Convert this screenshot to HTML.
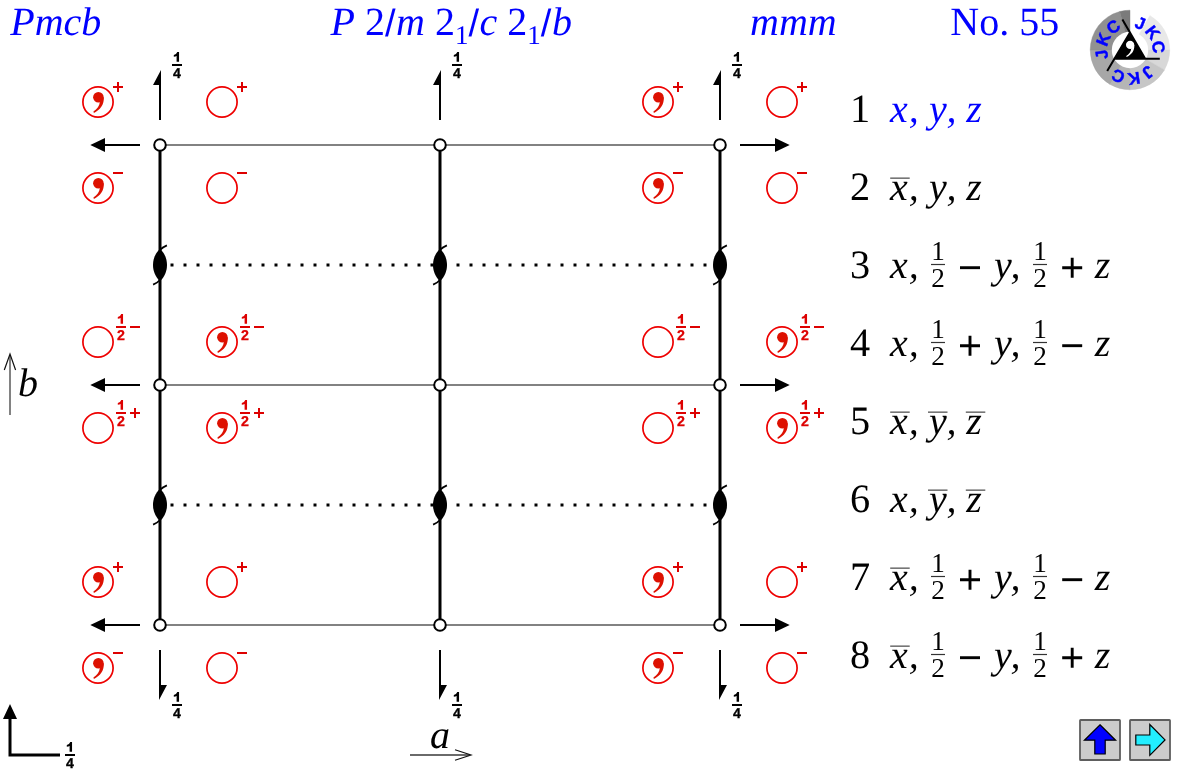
<!DOCTYPE html>
<html><head><meta charset="utf-8"><title>Pmcb No. 55</title>
<style>
html,body{margin:0;padding:0;background:#fff;}
body{width:1180px;height:770px;overflow:hidden;}
svg{display:block;position:absolute;left:0;top:0;opacity:0.9999;will-change:opacity;}
text{font-family:"Liberation Serif",serif;text-rendering:geometricPrecision;font-kerning:none;}
.i{font-style:italic;}
.sb{font-family:"Liberation Sans",sans-serif;font-weight:bold;}
.ss{font-family:"Liberation Sans",sans-serif;}
</style></head><body>
<svg width="1180" height="770" viewBox="0 0 1180 770">
<g fill="#0000ff" font-size="40">
<text x="10.3" y="35.3" class="i">Pmcb</text>
<text x="330.5" y="35.3"><tspan class="i">P</tspan> 2<tspan class="ss" font-size="38" dy="0.8">/</tspan><tspan class="i" dy="-0.8" dx="0.55">m</tspan> 2<tspan font-size="27" dy="8.7">1</tspan><tspan dy="-7.9" class="ss" font-size="38">/</tspan><tspan class="i" dy="-0.8" dx="0.55">c</tspan> 2<tspan font-size="27" dy="8.7">1</tspan><tspan dy="-7.9" class="ss" font-size="38">/</tspan><tspan class="i" dy="-0.8" dx="0.55">b</tspan></text>
<text x="750" y="35.3" class="i">mmm</text>
<text x="950.3" y="35.3">No. 55</text>
</g>
<line x1="160" y1="145" x2="720" y2="145" stroke="#585858" stroke-width="1.5"/>
<line x1="160" y1="385" x2="720" y2="385" stroke="#585858" stroke-width="1.5"/>
<line x1="160" y1="625" x2="720" y2="625" stroke="#585858" stroke-width="1.5"/>
<line x1="160" y1="145" x2="160" y2="625" stroke="#000" stroke-width="3"/>
<line x1="440" y1="145" x2="440" y2="625" stroke="#000" stroke-width="3"/>
<line x1="720" y1="145" x2="720" y2="625" stroke="#000" stroke-width="3"/>
<line x1="170.5" y1="265" x2="720" y2="265" stroke="#000" stroke-width="3" stroke-dasharray="3 10"/>
<line x1="170.5" y1="505" x2="720" y2="505" stroke="#000" stroke-width="3" stroke-dasharray="3 10"/>
<g transform="translate(160,265)"><path d="M0,-16.2 C9.35,-7.5 9.35,7.5 0,16.2 C-9.35,7.5 -9.35,-7.5 0,-16.2 Z" fill="#000"/><path d="M0,-15 Q2.5,-17.8 6.9,-19.7" fill="none" stroke="#000" stroke-width="1.8"/><path d="M0,15 Q-2.5,17.8 -6.9,19.7" fill="none" stroke="#000" stroke-width="1.8"/></g>
<g transform="translate(160,505)"><path d="M0,-16.2 C9.35,-7.5 9.35,7.5 0,16.2 C-9.35,7.5 -9.35,-7.5 0,-16.2 Z" fill="#000"/><path d="M0,-15 Q2.5,-17.8 6.9,-19.7" fill="none" stroke="#000" stroke-width="1.8"/><path d="M0,15 Q-2.5,17.8 -6.9,19.7" fill="none" stroke="#000" stroke-width="1.8"/></g>
<g transform="translate(440,265)"><path d="M0,-16.2 C9.35,-7.5 9.35,7.5 0,16.2 C-9.35,7.5 -9.35,-7.5 0,-16.2 Z" fill="#000"/><path d="M0,-15 Q2.5,-17.8 6.9,-19.7" fill="none" stroke="#000" stroke-width="1.8"/><path d="M0,15 Q-2.5,17.8 -6.9,19.7" fill="none" stroke="#000" stroke-width="1.8"/></g>
<g transform="translate(440,505)"><path d="M0,-16.2 C9.35,-7.5 9.35,7.5 0,16.2 C-9.35,7.5 -9.35,-7.5 0,-16.2 Z" fill="#000"/><path d="M0,-15 Q2.5,-17.8 6.9,-19.7" fill="none" stroke="#000" stroke-width="1.8"/><path d="M0,15 Q-2.5,17.8 -6.9,19.7" fill="none" stroke="#000" stroke-width="1.8"/></g>
<g transform="translate(720,265)"><path d="M0,-16.2 C9.35,-7.5 9.35,7.5 0,16.2 C-9.35,7.5 -9.35,-7.5 0,-16.2 Z" fill="#000"/><path d="M0,-15 Q2.5,-17.8 6.9,-19.7" fill="none" stroke="#000" stroke-width="1.8"/><path d="M0,15 Q-2.5,17.8 -6.9,19.7" fill="none" stroke="#000" stroke-width="1.8"/></g>
<g transform="translate(720,505)"><path d="M0,-16.2 C9.35,-7.5 9.35,7.5 0,16.2 C-9.35,7.5 -9.35,-7.5 0,-16.2 Z" fill="#000"/><path d="M0,-15 Q2.5,-17.8 6.9,-19.7" fill="none" stroke="#000" stroke-width="1.8"/><path d="M0,15 Q-2.5,17.8 -6.9,19.7" fill="none" stroke="#000" stroke-width="1.8"/></g>
<circle cx="160" cy="145" r="5.8" fill="#fff" stroke="#000" stroke-width="2"/>
<circle cx="160" cy="385" r="5.8" fill="#fff" stroke="#000" stroke-width="2"/>
<circle cx="160" cy="625" r="5.8" fill="#fff" stroke="#000" stroke-width="2"/>
<circle cx="440" cy="145" r="5.8" fill="#fff" stroke="#000" stroke-width="2"/>
<circle cx="440" cy="385" r="5.8" fill="#fff" stroke="#000" stroke-width="2"/>
<circle cx="440" cy="625" r="5.8" fill="#fff" stroke="#000" stroke-width="2"/>
<circle cx="720" cy="145" r="5.8" fill="#fff" stroke="#000" stroke-width="2"/>
<circle cx="720" cy="385" r="5.8" fill="#fff" stroke="#000" stroke-width="2"/>
<circle cx="720" cy="625" r="5.8" fill="#fff" stroke="#000" stroke-width="2"/>
<line x1="104" y1="145" x2="140" y2="145" stroke="#000" stroke-width="2"/>
<polygon points="90.3,145 105,138 105,152" fill="#000"/>
<line x1="740" y1="145" x2="776" y2="145" stroke="#000" stroke-width="2"/>
<polygon points="789.7,145 775,138 775,152" fill="#000"/>
<line x1="104" y1="385" x2="140" y2="385" stroke="#000" stroke-width="2"/>
<polygon points="90.3,385 105,378 105,392" fill="#000"/>
<line x1="740" y1="385" x2="776" y2="385" stroke="#000" stroke-width="2"/>
<polygon points="789.7,385 775,378 775,392" fill="#000"/>
<line x1="104" y1="625" x2="140" y2="625" stroke="#000" stroke-width="2"/>
<polygon points="90.3,625 105,618 105,632" fill="#000"/>
<line x1="740" y1="625" x2="776" y2="625" stroke="#000" stroke-width="2"/>
<polygon points="789.7,625 775,618 775,632" fill="#000"/>
<line x1="160" y1="120" x2="160" y2="84" stroke="#000" stroke-width="2"/>
<polygon points="161,70 161,85 153,85" fill="#000"/>
<g fill="#000"><path transform="translate(177,65)" d="M2.05,-3.2 V-12.95 H0.2 C-0.3,-11.3 -1.5,-10.3 -3.2,-10.05 V-8.2 C-2.1,-8.3 -1.1,-8.6 -0.4,-9.1 V-3.2 Z"/><text class="sb" font-size="14.2" text-anchor="middle" x="177" y="78" stroke="#000" stroke-width="0.3">4</text><rect x="172" y="64" width="10" height="2"/></g>
<line x1="160" y1="650" x2="160" y2="686" stroke="#000" stroke-width="2"/>
<polygon points="159,700 159,685 167,685" fill="#000"/>
<g fill="#000"><path transform="translate(177,705)" d="M2.05,-3.2 V-12.95 H0.2 C-0.3,-11.3 -1.5,-10.3 -3.2,-10.05 V-8.2 C-2.1,-8.3 -1.1,-8.6 -0.4,-9.1 V-3.2 Z"/><text class="sb" font-size="14.2" text-anchor="middle" x="177" y="718" stroke="#000" stroke-width="0.3">4</text><rect x="172" y="704" width="10" height="2"/></g>
<line x1="440" y1="120" x2="440" y2="84" stroke="#000" stroke-width="2"/>
<polygon points="441,70 441,85 433,85" fill="#000"/>
<g fill="#000"><path transform="translate(457,65)" d="M2.05,-3.2 V-12.95 H0.2 C-0.3,-11.3 -1.5,-10.3 -3.2,-10.05 V-8.2 C-2.1,-8.3 -1.1,-8.6 -0.4,-9.1 V-3.2 Z"/><text class="sb" font-size="14.2" text-anchor="middle" x="457" y="78" stroke="#000" stroke-width="0.3">4</text><rect x="452" y="64" width="10" height="2"/></g>
<line x1="440" y1="650" x2="440" y2="686" stroke="#000" stroke-width="2"/>
<polygon points="439,700 439,685 447,685" fill="#000"/>
<g fill="#000"><path transform="translate(457,705)" d="M2.05,-3.2 V-12.95 H0.2 C-0.3,-11.3 -1.5,-10.3 -3.2,-10.05 V-8.2 C-2.1,-8.3 -1.1,-8.6 -0.4,-9.1 V-3.2 Z"/><text class="sb" font-size="14.2" text-anchor="middle" x="457" y="718" stroke="#000" stroke-width="0.3">4</text><rect x="452" y="704" width="10" height="2"/></g>
<line x1="720" y1="120" x2="720" y2="84" stroke="#000" stroke-width="2"/>
<polygon points="721,70 721,85 713,85" fill="#000"/>
<g fill="#000"><path transform="translate(737,65)" d="M2.05,-3.2 V-12.95 H0.2 C-0.3,-11.3 -1.5,-10.3 -3.2,-10.05 V-8.2 C-2.1,-8.3 -1.1,-8.6 -0.4,-9.1 V-3.2 Z"/><text class="sb" font-size="14.2" text-anchor="middle" x="737" y="78" stroke="#000" stroke-width="0.3">4</text><rect x="732" y="64" width="10" height="2"/></g>
<line x1="720" y1="650" x2="720" y2="686" stroke="#000" stroke-width="2"/>
<polygon points="719,700 719,685 727,685" fill="#000"/>
<g fill="#000"><path transform="translate(737,705)" d="M2.05,-3.2 V-12.95 H0.2 C-0.3,-11.3 -1.5,-10.3 -3.2,-10.05 V-8.2 C-2.1,-8.3 -1.1,-8.6 -0.4,-9.1 V-3.2 Z"/><text class="sb" font-size="14.2" text-anchor="middle" x="737" y="718" stroke="#000" stroke-width="0.3">4</text><rect x="732" y="704" width="10" height="2"/></g>
<circle cx="98" cy="102" r="15.1" fill="none" stroke="#ee0000" stroke-width="1.7"/>
<g transform="translate(98,102)" fill="#dd1100"><circle cx="0.4" cy="-4.7" r="5.3"/><path d="M5.75,-5 C6.5,2.8 1.8,8 -4.1,10.9 L-4.6,9.6 C-0.8,6.7 1.6,3.9 1.8,0.2 Z"/></g>
<path d="M113,87H123M118,82V92" stroke="#dd0000" stroke-width="2" fill="none"/>
<circle cx="222" cy="102" r="15.1" fill="none" stroke="#ee0000" stroke-width="1.7"/>
<path d="M237,87H247M242,82V92" stroke="#dd0000" stroke-width="2" fill="none"/>
<circle cx="658" cy="102" r="15.1" fill="none" stroke="#ee0000" stroke-width="1.7"/>
<g transform="translate(658,102)" fill="#dd1100"><circle cx="0.4" cy="-4.7" r="5.3"/><path d="M5.75,-5 C6.5,2.8 1.8,8 -4.1,10.9 L-4.6,9.6 C-0.8,6.7 1.6,3.9 1.8,0.2 Z"/></g>
<path d="M673,87H683M678,82V92" stroke="#dd0000" stroke-width="2" fill="none"/>
<circle cx="782" cy="102" r="15.1" fill="none" stroke="#ee0000" stroke-width="1.7"/>
<path d="M797,87H807M802,82V92" stroke="#dd0000" stroke-width="2" fill="none"/>
<circle cx="98" cy="188" r="15.1" fill="none" stroke="#ee0000" stroke-width="1.7"/>
<g transform="translate(98,188)" fill="#dd1100"><circle cx="0.4" cy="-4.7" r="5.3"/><path d="M5.75,-5 C6.5,2.8 1.8,8 -4.1,10.9 L-4.6,9.6 C-0.8,6.7 1.6,3.9 1.8,0.2 Z"/></g>
<path d="M113,173H123" stroke="#dd0000" stroke-width="2" fill="none"/>
<circle cx="222" cy="188" r="15.1" fill="none" stroke="#ee0000" stroke-width="1.7"/>
<path d="M237,173H247" stroke="#dd0000" stroke-width="2" fill="none"/>
<circle cx="658" cy="188" r="15.1" fill="none" stroke="#ee0000" stroke-width="1.7"/>
<g transform="translate(658,188)" fill="#dd1100"><circle cx="0.4" cy="-4.7" r="5.3"/><path d="M5.75,-5 C6.5,2.8 1.8,8 -4.1,10.9 L-4.6,9.6 C-0.8,6.7 1.6,3.9 1.8,0.2 Z"/></g>
<path d="M673,173H683" stroke="#dd0000" stroke-width="2" fill="none"/>
<circle cx="782" cy="188" r="15.1" fill="none" stroke="#ee0000" stroke-width="1.7"/>
<path d="M797,173H807" stroke="#dd0000" stroke-width="2" fill="none"/>
<circle cx="98" cy="342" r="15.1" fill="none" stroke="#ee0000" stroke-width="1.7"/>
<g fill="#dd0000"><path transform="translate(121,327)" d="M2.05,-3.2 V-12.95 H0.2 C-0.3,-11.3 -1.5,-10.3 -3.2,-10.05 V-8.2 C-2.1,-8.3 -1.1,-8.6 -0.4,-9.1 V-3.2 Z"/><text class="sb" font-size="14.2" text-anchor="middle" x="121" y="340" stroke="#dd0000" stroke-width="0.3">2</text><rect x="116" y="326" width="10" height="2"/></g>
<path d="M130,327H140" stroke="#dd0000" stroke-width="2" fill="none"/>
<circle cx="222" cy="342" r="15.1" fill="none" stroke="#ee0000" stroke-width="1.7"/>
<g transform="translate(222,342)" fill="#dd1100"><circle cx="0.4" cy="-4.7" r="5.3"/><path d="M5.75,-5 C6.5,2.8 1.8,8 -4.1,10.9 L-4.6,9.6 C-0.8,6.7 1.6,3.9 1.8,0.2 Z"/></g>
<g fill="#dd0000"><path transform="translate(245,327)" d="M2.05,-3.2 V-12.95 H0.2 C-0.3,-11.3 -1.5,-10.3 -3.2,-10.05 V-8.2 C-2.1,-8.3 -1.1,-8.6 -0.4,-9.1 V-3.2 Z"/><text class="sb" font-size="14.2" text-anchor="middle" x="245" y="340" stroke="#dd0000" stroke-width="0.3">2</text><rect x="240" y="326" width="10" height="2"/></g>
<path d="M254,327H264" stroke="#dd0000" stroke-width="2" fill="none"/>
<circle cx="658" cy="342" r="15.1" fill="none" stroke="#ee0000" stroke-width="1.7"/>
<g fill="#dd0000"><path transform="translate(681,327)" d="M2.05,-3.2 V-12.95 H0.2 C-0.3,-11.3 -1.5,-10.3 -3.2,-10.05 V-8.2 C-2.1,-8.3 -1.1,-8.6 -0.4,-9.1 V-3.2 Z"/><text class="sb" font-size="14.2" text-anchor="middle" x="681" y="340" stroke="#dd0000" stroke-width="0.3">2</text><rect x="676" y="326" width="10" height="2"/></g>
<path d="M690,327H700" stroke="#dd0000" stroke-width="2" fill="none"/>
<circle cx="782" cy="342" r="15.1" fill="none" stroke="#ee0000" stroke-width="1.7"/>
<g transform="translate(782,342)" fill="#dd1100"><circle cx="0.4" cy="-4.7" r="5.3"/><path d="M5.75,-5 C6.5,2.8 1.8,8 -4.1,10.9 L-4.6,9.6 C-0.8,6.7 1.6,3.9 1.8,0.2 Z"/></g>
<g fill="#dd0000"><path transform="translate(805,327)" d="M2.05,-3.2 V-12.95 H0.2 C-0.3,-11.3 -1.5,-10.3 -3.2,-10.05 V-8.2 C-2.1,-8.3 -1.1,-8.6 -0.4,-9.1 V-3.2 Z"/><text class="sb" font-size="14.2" text-anchor="middle" x="805" y="340" stroke="#dd0000" stroke-width="0.3">2</text><rect x="800" y="326" width="10" height="2"/></g>
<path d="M814,327H824" stroke="#dd0000" stroke-width="2" fill="none"/>
<circle cx="98" cy="428" r="15.1" fill="none" stroke="#ee0000" stroke-width="1.7"/>
<g fill="#dd0000"><path transform="translate(121,413)" d="M2.05,-3.2 V-12.95 H0.2 C-0.3,-11.3 -1.5,-10.3 -3.2,-10.05 V-8.2 C-2.1,-8.3 -1.1,-8.6 -0.4,-9.1 V-3.2 Z"/><text class="sb" font-size="14.2" text-anchor="middle" x="121" y="426" stroke="#dd0000" stroke-width="0.3">2</text><rect x="116" y="412" width="10" height="2"/></g>
<path d="M130,413H140M135,408V418" stroke="#dd0000" stroke-width="2" fill="none"/>
<circle cx="222" cy="428" r="15.1" fill="none" stroke="#ee0000" stroke-width="1.7"/>
<g transform="translate(222,428)" fill="#dd1100"><circle cx="0.4" cy="-4.7" r="5.3"/><path d="M5.75,-5 C6.5,2.8 1.8,8 -4.1,10.9 L-4.6,9.6 C-0.8,6.7 1.6,3.9 1.8,0.2 Z"/></g>
<g fill="#dd0000"><path transform="translate(245,413)" d="M2.05,-3.2 V-12.95 H0.2 C-0.3,-11.3 -1.5,-10.3 -3.2,-10.05 V-8.2 C-2.1,-8.3 -1.1,-8.6 -0.4,-9.1 V-3.2 Z"/><text class="sb" font-size="14.2" text-anchor="middle" x="245" y="426" stroke="#dd0000" stroke-width="0.3">2</text><rect x="240" y="412" width="10" height="2"/></g>
<path d="M254,413H264M259,408V418" stroke="#dd0000" stroke-width="2" fill="none"/>
<circle cx="658" cy="428" r="15.1" fill="none" stroke="#ee0000" stroke-width="1.7"/>
<g fill="#dd0000"><path transform="translate(681,413)" d="M2.05,-3.2 V-12.95 H0.2 C-0.3,-11.3 -1.5,-10.3 -3.2,-10.05 V-8.2 C-2.1,-8.3 -1.1,-8.6 -0.4,-9.1 V-3.2 Z"/><text class="sb" font-size="14.2" text-anchor="middle" x="681" y="426" stroke="#dd0000" stroke-width="0.3">2</text><rect x="676" y="412" width="10" height="2"/></g>
<path d="M690,413H700M695,408V418" stroke="#dd0000" stroke-width="2" fill="none"/>
<circle cx="782" cy="428" r="15.1" fill="none" stroke="#ee0000" stroke-width="1.7"/>
<g transform="translate(782,428)" fill="#dd1100"><circle cx="0.4" cy="-4.7" r="5.3"/><path d="M5.75,-5 C6.5,2.8 1.8,8 -4.1,10.9 L-4.6,9.6 C-0.8,6.7 1.6,3.9 1.8,0.2 Z"/></g>
<g fill="#dd0000"><path transform="translate(805,413)" d="M2.05,-3.2 V-12.95 H0.2 C-0.3,-11.3 -1.5,-10.3 -3.2,-10.05 V-8.2 C-2.1,-8.3 -1.1,-8.6 -0.4,-9.1 V-3.2 Z"/><text class="sb" font-size="14.2" text-anchor="middle" x="805" y="426" stroke="#dd0000" stroke-width="0.3">2</text><rect x="800" y="412" width="10" height="2"/></g>
<path d="M814,413H824M819,408V418" stroke="#dd0000" stroke-width="2" fill="none"/>
<circle cx="98" cy="582" r="15.1" fill="none" stroke="#ee0000" stroke-width="1.7"/>
<g transform="translate(98,582)" fill="#dd1100"><circle cx="0.4" cy="-4.7" r="5.3"/><path d="M5.75,-5 C6.5,2.8 1.8,8 -4.1,10.9 L-4.6,9.6 C-0.8,6.7 1.6,3.9 1.8,0.2 Z"/></g>
<path d="M113,567H123M118,562V572" stroke="#dd0000" stroke-width="2" fill="none"/>
<circle cx="222" cy="582" r="15.1" fill="none" stroke="#ee0000" stroke-width="1.7"/>
<path d="M237,567H247M242,562V572" stroke="#dd0000" stroke-width="2" fill="none"/>
<circle cx="658" cy="582" r="15.1" fill="none" stroke="#ee0000" stroke-width="1.7"/>
<g transform="translate(658,582)" fill="#dd1100"><circle cx="0.4" cy="-4.7" r="5.3"/><path d="M5.75,-5 C6.5,2.8 1.8,8 -4.1,10.9 L-4.6,9.6 C-0.8,6.7 1.6,3.9 1.8,0.2 Z"/></g>
<path d="M673,567H683M678,562V572" stroke="#dd0000" stroke-width="2" fill="none"/>
<circle cx="782" cy="582" r="15.1" fill="none" stroke="#ee0000" stroke-width="1.7"/>
<path d="M797,567H807M802,562V572" stroke="#dd0000" stroke-width="2" fill="none"/>
<circle cx="98" cy="668" r="15.1" fill="none" stroke="#ee0000" stroke-width="1.7"/>
<g transform="translate(98,668)" fill="#dd1100"><circle cx="0.4" cy="-4.7" r="5.3"/><path d="M5.75,-5 C6.5,2.8 1.8,8 -4.1,10.9 L-4.6,9.6 C-0.8,6.7 1.6,3.9 1.8,0.2 Z"/></g>
<path d="M113,653H123" stroke="#dd0000" stroke-width="2" fill="none"/>
<circle cx="222" cy="668" r="15.1" fill="none" stroke="#ee0000" stroke-width="1.7"/>
<path d="M237,653H247" stroke="#dd0000" stroke-width="2" fill="none"/>
<circle cx="658" cy="668" r="15.1" fill="none" stroke="#ee0000" stroke-width="1.7"/>
<g transform="translate(658,668)" fill="#dd1100"><circle cx="0.4" cy="-4.7" r="5.3"/><path d="M5.75,-5 C6.5,2.8 1.8,8 -4.1,10.9 L-4.6,9.6 C-0.8,6.7 1.6,3.9 1.8,0.2 Z"/></g>
<path d="M673,653H683" stroke="#dd0000" stroke-width="2" fill="none"/>
<circle cx="782" cy="668" r="15.1" fill="none" stroke="#ee0000" stroke-width="1.7"/>
<path d="M797,653H807" stroke="#dd0000" stroke-width="2" fill="none"/>
<line x1="10" y1="415" x2="10" y2="355" stroke="#585858" stroke-width="1.5"/>
<path d="M4.3,370 L10,354 L15.6,370" fill="none" stroke="#111" stroke-width="1.2"/>
<text x="18" y="395.5" font-size="40" class="i">b</text>
<line x1="410" y1="755" x2="470" y2="755" stroke="#6a6a6a" stroke-width="1.8"/>
<path d="M455,749.7 L471,755 L455,760.3" fill="none" stroke="#111" stroke-width="1.2"/>
<text x="430" y="748" font-size="40" class="i">a</text>
<path d="M10,718 V755 H60" fill="none" stroke="#000" stroke-width="3"/>
<polygon points="10,704 3,719 17,719" fill="#000"/>
<g fill="#000"><path transform="translate(70,755)" d="M2.05,-3.2 V-12.95 H0.2 C-0.3,-11.3 -1.5,-10.3 -3.2,-10.05 V-8.2 C-2.1,-8.3 -1.1,-8.6 -0.4,-9.1 V-3.2 Z"/><text class="sb" font-size="14.2" text-anchor="middle" x="70" y="768" stroke="#000" stroke-width="0.3">4</text><rect x="65" y="754" width="10" height="2"/></g>
<text x="850" y="122" font-size="40.3">1</text>
<text x="850" y="200" font-size="40.3">2</text>
<text x="850" y="278" font-size="40.3">3</text>
<text x="850" y="356" font-size="40.3">4</text>
<text x="850" y="434" font-size="40.3">5</text>
<text x="850" y="512" font-size="40.3">6</text>
<text x="850" y="590" font-size="40.3">7</text>
<text x="850" y="668" font-size="40.3">8</text>
<text font-size="40" class="i" fill="#0000ff" y="122"><tspan x="890">x</tspan><tspan x="908.7">,</tspan><tspan x="929">y</tspan><tspan x="946.4">,</tspan><tspan x="966.3">z</tspan></text>
<text font-size="40" class="i" fill="#000" y="200"><tspan x="890">x</tspan><tspan x="908.7">,</tspan><tspan x="929">y</tspan><tspan x="946.4">,</tspan><tspan x="966.3">z</tspan></text>
<rect x="890.2" y="177.5" width="19.5" height="1.3" fill="#555"/>
<text y="278" font-size="40" class="i"><tspan x="890">x</tspan><tspan x="908.7">,</tspan></text>
<text x="938" y="260" font-size="27.2" text-anchor="middle">1</text>
<text x="938" y="287" font-size="27.2" text-anchor="middle">2</text>
<rect x="931" y="263.9" width="14" height="1.2" fill="#333"/>
<path d="M960,267.7H980" stroke="#000" stroke-width="2.9" fill="none"/>
<text y="278" font-size="40" class="i"><tspan x="994">y</tspan><tspan x="1010.6">,</tspan></text>
<text x="1040" y="260" font-size="27.2" text-anchor="middle">1</text>
<text x="1040" y="287" font-size="27.2" text-anchor="middle">2</text>
<rect x="1033" y="263.9" width="14" height="1.2" fill="#333"/>
<path d="M1062.2,267.7H1082.2M1072.2,257.7V277.7" stroke="#000" stroke-width="2.9" fill="none"/>
<text x="1094.8" y="278" font-size="40" class="i">z</text>
<text y="356" font-size="40" class="i"><tspan x="890">x</tspan><tspan x="908.7">,</tspan></text>
<text x="938" y="338" font-size="27.2" text-anchor="middle">1</text>
<text x="938" y="365" font-size="27.2" text-anchor="middle">2</text>
<rect x="931" y="341.9" width="14" height="1.2" fill="#333"/>
<path d="M960,345.7H980M970,335.7V355.7" stroke="#000" stroke-width="2.9" fill="none"/>
<text y="356" font-size="40" class="i"><tspan x="994">y</tspan><tspan x="1010.6">,</tspan></text>
<text x="1040" y="338" font-size="27.2" text-anchor="middle">1</text>
<text x="1040" y="365" font-size="27.2" text-anchor="middle">2</text>
<rect x="1033" y="341.9" width="14" height="1.2" fill="#333"/>
<path d="M1062.2,345.7H1082.2" stroke="#000" stroke-width="2.9" fill="none"/>
<text x="1094.8" y="356" font-size="40" class="i">z</text>
<text font-size="40" class="i" fill="#000" y="434"><tspan x="890">x</tspan><tspan x="908.7">,</tspan><tspan x="929">y</tspan><tspan x="946.4">,</tspan><tspan x="966.3">z</tspan></text>
<rect x="890.2" y="411.5" width="19.5" height="1.3" fill="#555"/>
<rect x="928.0" y="411.5" width="19.5" height="1.3" fill="#555"/>
<rect x="965.8000000000001" y="411.5" width="19.5" height="1.3" fill="#555"/>
<text font-size="40" class="i" fill="#000" y="512"><tspan x="890">x</tspan><tspan x="908.7">,</tspan><tspan x="929">y</tspan><tspan x="946.4">,</tspan><tspan x="966.3">z</tspan></text>
<rect x="928.0" y="489.5" width="19.5" height="1.3" fill="#555"/>
<rect x="965.8000000000001" y="489.5" width="19.5" height="1.3" fill="#555"/>
<text y="590" font-size="40" class="i"><tspan x="890">x</tspan><tspan x="908.7">,</tspan></text>
<rect x="890.2" y="567.5" width="19.5" height="1.3" fill="#555"/>
<text x="938" y="572" font-size="27.2" text-anchor="middle">1</text>
<text x="938" y="599" font-size="27.2" text-anchor="middle">2</text>
<rect x="931" y="575.9" width="14" height="1.2" fill="#333"/>
<path d="M960,579.7H980M970,569.7V589.7" stroke="#000" stroke-width="2.9" fill="none"/>
<text y="590" font-size="40" class="i"><tspan x="994">y</tspan><tspan x="1010.6">,</tspan></text>
<text x="1040" y="572" font-size="27.2" text-anchor="middle">1</text>
<text x="1040" y="599" font-size="27.2" text-anchor="middle">2</text>
<rect x="1033" y="575.9" width="14" height="1.2" fill="#333"/>
<path d="M1062.2,579.7H1082.2" stroke="#000" stroke-width="2.9" fill="none"/>
<text x="1094.8" y="590" font-size="40" class="i">z</text>
<text y="668" font-size="40" class="i"><tspan x="890">x</tspan><tspan x="908.7">,</tspan></text>
<rect x="890.2" y="645.5" width="19.5" height="1.3" fill="#555"/>
<text x="938" y="650" font-size="27.2" text-anchor="middle">1</text>
<text x="938" y="677" font-size="27.2" text-anchor="middle">2</text>
<rect x="931" y="653.9" width="14" height="1.2" fill="#333"/>
<path d="M960,657.7H980" stroke="#000" stroke-width="2.9" fill="none"/>
<text y="668" font-size="40" class="i"><tspan x="994">y</tspan><tspan x="1010.6">,</tspan></text>
<text x="1040" y="650" font-size="27.2" text-anchor="middle">1</text>
<text x="1040" y="677" font-size="27.2" text-anchor="middle">2</text>
<rect x="1033" y="653.9" width="14" height="1.2" fill="#333"/>
<path d="M1062.2,657.7H1082.2M1072.2,647.7V667.7" stroke="#000" stroke-width="2.9" fill="none"/>
<text x="1094.8" y="668" font-size="40" class="i">z</text>
<path d="M1130,50 L1149.90,15.53 A39.8,39.8 0 0 1 1169.80,50.00 Z" fill="#e8e8e8" stroke="#e8e8e8" stroke-width="0.4"/>
<path d="M1130,50 L1169.80,50.00 A39.8,39.8 0 0 1 1164.47,69.90 Z" fill="#d8d8d8" stroke="#d8d8d8" stroke-width="0.4"/>
<path d="M1130,50 L1164.47,69.90 A39.8,39.8 0 0 1 1130.00,89.80 Z" fill="#c6c6c6" stroke="#c6c6c6" stroke-width="0.4"/>
<path d="M1130,50 L1130.00,89.80 A39.8,39.8 0 0 1 1110.10,84.47 Z" fill="#b5b5b5" stroke="#b5b5b5" stroke-width="0.4"/>
<path d="M1130,50 L1110.10,84.47 A39.8,39.8 0 0 1 1090.20,50.00 Z" fill="#a7a7a7" stroke="#a7a7a7" stroke-width="0.4"/>
<path d="M1130,50 L1090.20,50.00 A39.8,39.8 0 0 1 1119.70,11.56 Z" fill="#919191" stroke="#919191" stroke-width="0.4"/>
<path d="M1130,50 L1119.70,11.56 A39.8,39.8 0 0 1 1130.00,10.20 Z" fill="#7b7b7b" stroke="#7b7b7b" stroke-width="0.4"/>
<circle cx="1130" cy="50" r="18.2" fill="#fff"/>
<polygon points="1130,32.5 1145.2,58.8 1114.8,58.8" fill="#000"/>
<path d="M1122.4,19.6 L1145.2,58.8 M1114.8,58.8 H1159.8 M1130,32.5 L1107.2,71" stroke="#000" stroke-width="2" fill="none"/>
<g transform="translate(1129.8,48.6) scale(0.78)" fill="#fff"><circle cx="0.4" cy="-4.7" r="5.3"/><path d="M5.75,-5 C6.5,2.8 1.8,8 -4.1,10.9 L-4.6,9.6 C-0.8,6.7 1.6,3.9 1.8,0.2 Z"/></g>
<text class="sb" font-size="17" fill="#0000ff" stroke="#0000ff" stroke-width="0.45" text-anchor="middle" transform="translate(1140.29,23.21) rotate(21)" y="5.9">J</text>
<text class="sb" font-size="17" fill="#0000ff" stroke="#0000ff" stroke-width="0.45" text-anchor="middle" transform="translate(1152.62,32.33) rotate(52)" y="5.9">K</text>
<text class="sb" font-size="17" fill="#0000ff" stroke="#0000ff" stroke-width="0.45" text-anchor="middle" transform="translate(1158.54,47.00) rotate(84)" y="5.9">C</text>
<text class="sb" font-size="17" fill="#0000ff" stroke="#0000ff" stroke-width="0.45" text-anchor="middle" transform="translate(1148.06,72.30) rotate(141)" y="5.9">J</text>
<text class="sb" font-size="17" fill="#0000ff" stroke="#0000ff" stroke-width="0.45" text-anchor="middle" transform="translate(1133.99,78.42) rotate(172)" y="5.9">K</text>
<text class="sb" font-size="17" fill="#0000ff" stroke="#0000ff" stroke-width="0.45" text-anchor="middle" transform="translate(1118.33,76.22) rotate(204)" y="5.9">C</text>
<text class="sb" font-size="17" fill="#0000ff" stroke="#0000ff" stroke-width="0.45" text-anchor="middle" transform="translate(1101.65,54.49) rotate(261)" y="5.9">J</text>
<text class="sb" font-size="17" fill="#0000ff" stroke="#0000ff" stroke-width="0.45" text-anchor="middle" transform="translate(1103.39,39.25) rotate(292)" y="5.9">K</text>
<text class="sb" font-size="17" fill="#0000ff" stroke="#0000ff" stroke-width="0.45" text-anchor="middle" transform="translate(1113.13,26.78) rotate(324)" y="5.9">C</text>
<rect x="1080" y="720" width="40" height="40" rx="0.6" fill="#ccc" stroke="#5e5e5e" stroke-width="1.8"/>
<rect x="1130" y="720" width="40" height="40" rx="0.6" fill="#ccc" stroke="#5e5e5e" stroke-width="1.8"/>
<polygon points="1100,724.8 1115.6,740.2 1105.2,740.2 1105.2,754 1094.8,754 1094.8,740.2 1084.4,740.2" fill="#0000ff" stroke="#000" stroke-width="1.2" stroke-linejoin="miter"/>
<polygon points="1165,739.9 1149.8,724.5 1149.8,735 1135.8,735 1135.8,745 1149.8,745 1149.8,755.3" fill="#22eeff" stroke="#000" stroke-width="1.2" stroke-linejoin="miter"/>
</svg></body></html>
